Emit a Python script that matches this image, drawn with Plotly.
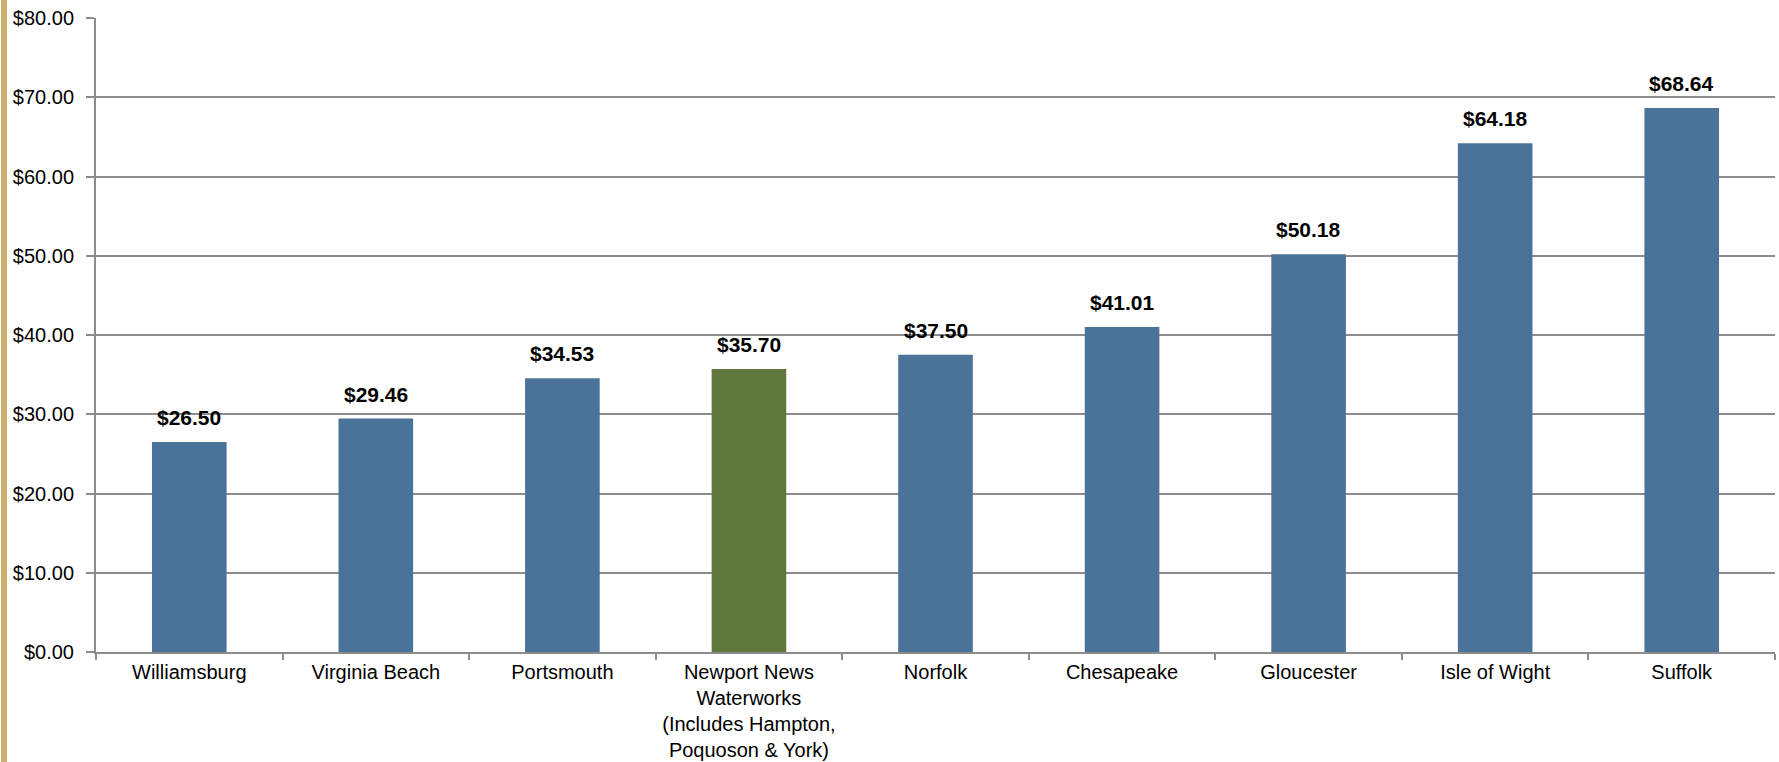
import plotly.graph_objects as go

categories = ["Williamsburg", "Virginia Beach", "Portsmouth",
              "Newport News<br>Waterworks<br>(Includes Hampton,<br>Poquoson & York)",
              "Norfolk", "Chesapeake", "Gloucester", "Isle of Wight", "Suffolk"]
values = [26.50, 29.46, 34.53, 35.70, 37.50, 41.01, 50.18, 64.18, 68.64]
highlight = "Newport News<br>Waterworks<br>(Includes Hampton,<br>Poquoson & York)"

BLUE = "#4b7299"
GREEN = "#5f773c"
colors = [GREEN if c == highlight else BLUE for c in categories]

fig = go.Figure(go.Bar(x=categories, y=values, marker=dict(color=colors, line=dict(width=0)),
                       hoverinfo="skip"))

for c, v in zip(categories, values):
    fig.add_annotation(x=c, y=v, text=f"<b>${v:.2f}</b>", showarrow=False,
                       yanchor="bottom", yshift=11,
                       font=dict(family="Liberation Sans, Arial", size=21, color="#000000"))

W, H = 1779, 762
ml, mr, mt, mb = 96, 4, 18, 110
pw = W - ml - mr
ph = H - mt - mb
fig.add_shape(type="rect", xref="paper", yref="paper",
              x0=(1 - ml) / pw, x1=(7 - ml) / pw,
              y0=-(mb) / ph, y1=(ph + mt) / ph,
              fillcolor="#c8b06a", line=dict(width=0), layer="above")

fig.update_layout(
    width=W, height=H,
    margin=dict(l=ml, r=mr, t=mt, b=mb),
    paper_bgcolor="white", plot_bgcolor="white",
    bargap=0.6, showlegend=False,
    font=dict(family="Liberation Sans, Arial", size=20, color="#000000"),
    xaxis=dict(showline=True, linecolor="#8c8c8c", linewidth=2,
               ticks="outside", tickson="boundaries", ticklen=6, tickcolor="#8c8c8c", tickwidth=2,
               ticklabelstandoff=1, automargin=False,
               tickfont=dict(size=20, color="#000000"), showgrid=False, fixedrange=True),
    yaxis=dict(range=[0, 80], dtick=10, tickprefix="$", tickformat=".2f",
               showline=True, linecolor="#8c8c8c", linewidth=2,
               ticks="outside", ticklen=8, tickcolor="#8c8c8c", tickwidth=2,
               showgrid=True, gridcolor="#8c8c8c", gridwidth=2,
               ticklabelstandoff=8, automargin=False,
               tickfont=dict(size=20, color="#000000"), zeroline=False, fixedrange=True),
)

fig.write_html("out.html")
